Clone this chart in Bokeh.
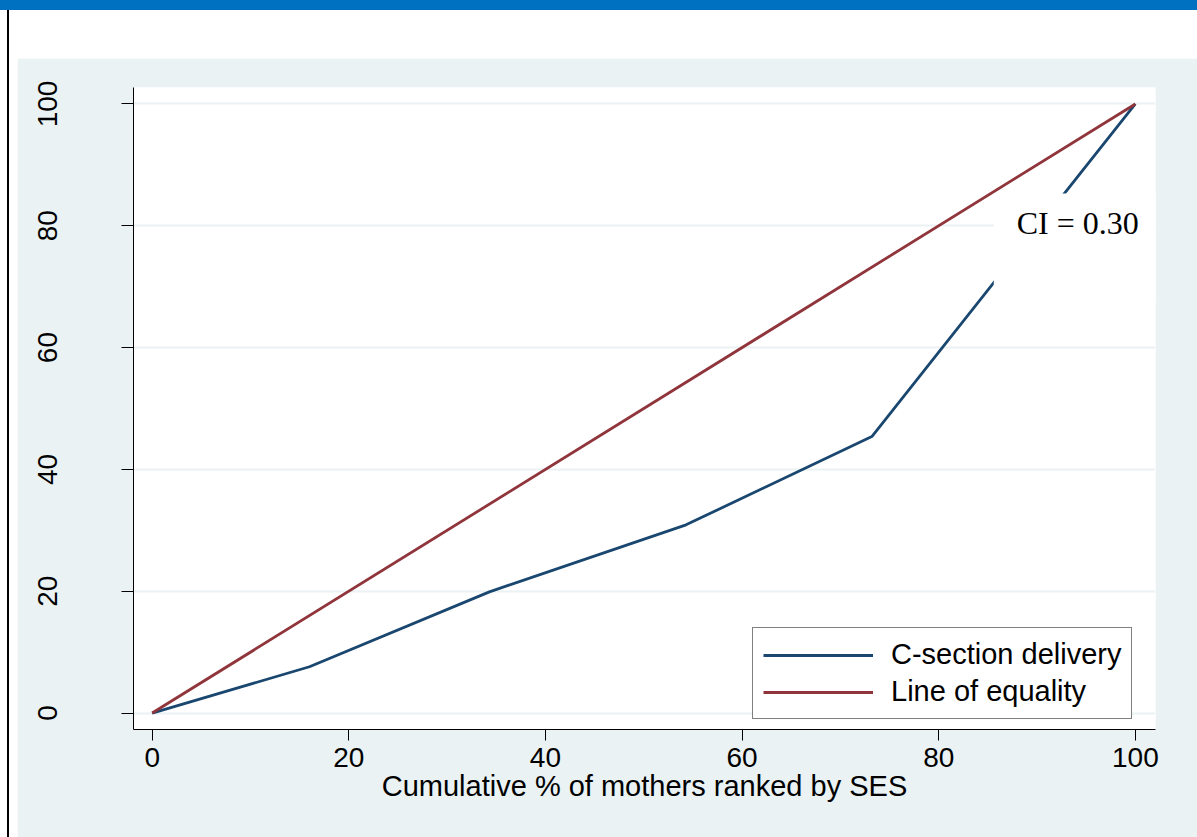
from bokeh.plotting import figure
from bokeh.models import Label, Legend, LegendItem, Spacer, Range1d, FixedTicker
from bokeh.layouts import column, row
from bokeh.embed import file_html
from bokeh.resources import INLINE

# ---- data ----
cum_mothers = [0, 16.0, 34.3, 54.3, 73.2, 100]
cum_csection = [0, 7.6, 19.9, 30.9, 45.4, 100]
equality_x = [0, 100]
equality_y = [0, 100]
x_ticks = [0, 20, 40, 60, 80, 100]
y_ticks = [0, 20, 40, 60, 80, 100]
series_names = ["C-section delivery", "Line of equality"]
ci_text = "CI = 0.30"
x_title = "Cumulative % of mothers ranked by SES"

BG = "#EAF2F3"
NAVY = "#1A476F"
MAROON = "#90353B"
FONT = "Liberation Sans"

p = figure(width=1180, height=779,
           x_range=Range1d(-1.9, 102.05), y_range=Range1d(-2.7, 102.7),
           output_backend="svg", toolbar_location=None,
           min_border_left=116, min_border_right=42,
           min_border_top=29, min_border_bottom=108)
p.background_fill_color = "white"
p.border_fill_color = BG
p.outline_line_color = None

r1 = p.line(cum_mothers, cum_csection, line_color=NAVY, line_width=2.8)
r2 = p.line(equality_x, equality_y, line_color=MAROON, line_width=2.8)

for ax in (p.xaxis, p.yaxis):
    ax.major_label_text_font = FONT
    ax.major_label_text_font_size = "28px"
    ax.major_label_text_color = "black"
    ax.axis_line_color = "black"
    ax.axis_line_width = 1
    ax.major_tick_line_color = "black"
    ax.major_tick_in = 0
    ax.minor_tick_line_color = None

p.xaxis.ticker = FixedTicker(ticks=x_ticks)
p.yaxis.ticker = FixedTicker(ticks=y_ticks)
p.xaxis.major_tick_out = 11
p.xaxis.major_label_standoff = 7
p.xaxis.axis_label = x_title
p.xaxis.axis_label_text_font = FONT
p.xaxis.axis_label_text_font_size = "29px"
p.xaxis.axis_label_text_font_style = "normal"
p.xaxis.axis_label_text_color = "black"
p.xaxis.axis_label_standoff = 0

p.yaxis.major_tick_out = 12
p.yaxis.major_label_orientation = "vertical"
p.yaxis.major_label_standoff = 64

p.xgrid.visible = False
p.ygrid.ticker = FixedTicker(ticks=y_ticks)
p.ygrid.grid_line_color = BG
p.ygrid.grid_line_width = 2

legend = Legend(items=[LegendItem(label=series_names[0], renderers=[r1]),
                       LegendItem(label=series_names[1], renderers=[r2])],
                location=(619, 10), margin=0, padding=10,
                glyph_width=110, glyph_height=28, label_standoff=18,
                label_height=28, spacing=4,
                border_line_color="black", border_line_width=1,
                background_fill_color="white", background_fill_alpha=1,
                label_text_font=FONT, label_text_font_size="29px",
                label_text_color="black")
p.add_layout(legend)

# padding order is (left, right, top, bottom)
ci = Label(x=85.6, y=85.3, text=ci_text, text_font="Liberation Serif",
           text_font_size="32px", text_align="left", text_baseline="top",
           text_color="black", background_fill_color="white",
           background_fill_alpha=1, padding=(23, 62, 12, 59))
p.add_layout(ci)

top_bar = Spacer(width=1197, height=10, styles={"background-color": "#0070C0"})
left_line = Spacer(width=2, height=827, styles={"background-color": "black"})
root = column(
    top_bar,
    row(Spacer(width=7, height=827), left_line, Spacer(width=8, height=827),
        column(Spacer(width=1180, height=48), p)),
    styles={"position": "absolute", "left": "0px", "top": "0px"},
)

open("out.html", "w").write(file_html(root, INLINE))
